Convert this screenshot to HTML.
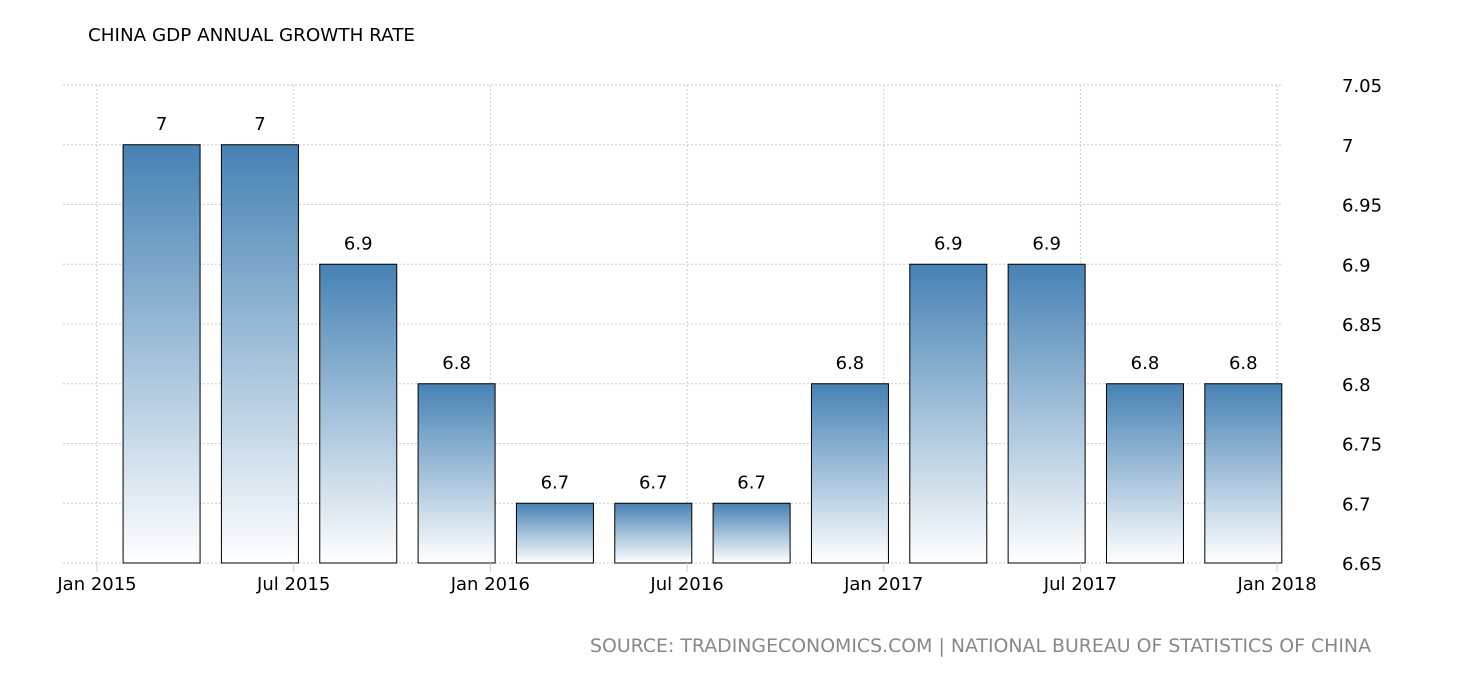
<!DOCTYPE html>
<html><head><meta charset="utf-8"><style>
body{margin:0;background:#fff;}
svg text{font-family:"DejaVu Sans","Liberation Sans",sans-serif;}
</style></head><body>
<svg id="chart" width="1460" height="680" xmlns="http://www.w3.org/2000/svg">
<defs><linearGradient id="g" x1="0" y1="0" x2="0" y2="1"><stop offset="0" stop-color="#4682b4"/><stop offset="1" stop-color="#ffffff"/></linearGradient></defs>
<text x="88" y="41" font-size="18" textLength="327" lengthAdjust="spacingAndGlyphs" fill="#000">CHINA GDP ANNUAL GROWTH RATE</text>
<g id="grid"></g><g id="bars"></g><g id="axes"></g>
<text x="590" y="652" font-size="19" textLength="781" lengthAdjust="spacingAndGlyphs" fill="#888">SOURCE: TRADINGECONOMICS.COM | NATIONAL BUREAU OF STATISTICS OF CHINA</text>
</svg>
<script>
const values=[7,7,6.9,6.8,6.7,6.7,6.7,6.8,6.9,6.9,6.8,6.8];
const labels=["7","7","6.9","6.8","6.7","6.7","6.7","6.8","6.9","6.9","6.8","6.8"];
const yTicks=[6.65,6.7,6.75,6.8,6.85,6.9,6.95,7,7.05];
const yTickLabels=["6.65","6.7","6.75","6.8","6.85","6.9","6.95","7","7.05"];
const xTickMonths=[0,6,12,18,24,30,36];
const xTickLabels=["Jan 2015","Jul 2015","Jan 2016","Jul 2016","Jan 2017","Jul 2017","Jan 2018"];
const NS="http://www.w3.org/2000/svg";
const y=v=>563-(v-6.65)/0.4*478;
const x=m=>97+m*32.78;
function mk(t,a,p){const e=document.createElementNS(NS,t);for(const k in a)e.setAttribute(k,a[k]);p.appendChild(e);return e;}
const grid=document.getElementById('grid'),bars=document.getElementById('bars'),axes=document.getElementById('axes');
yTicks.forEach((v,i)=>{
 const l=mk('line',{x1:63,x2:1283,y1:y(v),y2:y(v),stroke:'#ccc','stroke-dasharray':'2,2'},grid);
 
 
 const t=mk('text',{x:1342,y:y(v)+7,'font-size':18,fill:'#000'},axes);t.textContent=yTickLabels[i];
 
 
});
xTickMonths.forEach((m,i)=>{
 const l=mk('line',{x1:x(m),x2:x(m),y1:85,y2:563,stroke:'#ccc','stroke-dasharray':'2,2'},grid);
 
 
 const tk=mk('line',{x1:x(m),x2:x(m),y1:563,y2:572,stroke:'#ccc'},axes);
 
 
 const t=mk('text',{x:x(m),y:590,'font-size':18,fill:'#000','text-anchor':'middle'},axes);t.textContent=xTickLabels[i];
 
 
});
values.forEach((v,i)=>{
 const c=x(1.97+3*i);
 const r=mk('rect',{x:c-38.5,y:y(v),width:77,height:563-y(v),fill:'url(#g)',stroke:'#000','stroke-width':1},bars);
 
 
 const t=mk('text',{x:c,y:y(v)-15,'font-size':18,fill:'#000','text-anchor':'middle'},bars);t.textContent=labels[i];
 
 
});
</script>
</body></html>
